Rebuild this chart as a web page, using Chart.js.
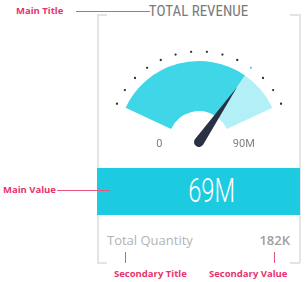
<!DOCTYPE html>
<html>
<head>
<meta charset="utf-8">
<script src="https://cdn.jsdelivr.net/npm/chart.js@4/dist/chart.umd.min.js"></script>
<style>
  body { margin: 0; background: #fff; }
  #page { position: relative; width: 307px; height: 282px; overflow: hidden; font-family: "Open Sans", sans-serif; }
  .abs { position: absolute; white-space: nowrap; }
  .narrow { font-family: "Liberation Sans Narrow", "Roboto", sans-serif; font-stretch: condensed; }
  .note { color: #e8336e; font-weight: bold; font-size: 9.5px; line-height: 10px; }
  .hline { position: absolute; height: 1px; background: #e8557f; }
  .vline { position: absolute; width: 1px; background: #e8557f; }
  .edge { position: absolute; background: #e4e4e4; }
</style>
</head>
<body>
<div id="page">
  <!-- card frame -->
  <div class="edge" style="left:97px; top:14px; width:1.5px; height:249px;"></div>
  <div class="edge" style="left:299px; top:14px; width:1.5px; height:249px;"></div>
  <div class="edge" style="left:97px; top:14px; width:10px; height:1.5px;"></div>
  <div class="edge" style="left:290px; top:14px; width:10px; height:1.5px;"></div>
  <div class="edge" style="left:97px; top:262px; width:10px; height:1.5px;"></div>
  <div class="edge" style="left:290px; top:262px; width:10px; height:1.5px;"></div>

  <div id="title" class="abs narrow" style="left:98px; width:201px; top:2px; text-align:center; font-size:15px; color:#7a7a7a;"></div>

  <div style="position:absolute; left:97px; top:30px; width:203px; height:130px;">
    <canvas id="gauge"></canvas>
  </div>

  <div id="band" style="position:absolute; left:97px; top:168px; width:203px; height:47px; background:#1dcbe0;"></div>
  <div id="mainValue" class="abs" style="left:97px; width:203px; top:171px; text-align:center; font-family:Roboto, sans-serif; font-weight:300; font-size:33px; line-height:40px; color:#fff; transform:scaleX(0.72); transform-origin:148.5px 0;"></div>

  <div id="secTitle" class="abs" style="left:107px; top:231px; font-size:13px; color:#b3b3b3;"></div>
  <div id="secValue" class="abs" style="right:17px; top:231px; font-size:13px; font-weight:600; color:#a0a0a0;"></div>

  <!-- annotations -->
  <div class="abs note" style="left:16px; top:6px;">Main Title</div>
  <div class="hline" style="left:76px; top:11px; width:74px;"></div>
  <div class="abs note" style="left:3px; top:185px;">Main Value</div>
  <div class="hline" style="left:57px; top:190px; width:53px;"></div>
  <div class="vline" style="left:125px; top:252px; height:11px;"></div>
  <div class="vline" style="left:274px; top:252px; height:11px;"></div>
  <div class="abs note" style="left:114px; top:269px;">Secondary Title</div>
  <div class="abs note" style="left:209px; top:269px;">Secondary Value</div>
</div>

<script>
// card texts
var mainTitle = "TOTAL REVENUE";
var mainValueText = "69M";
var secondaryTitle = "Total Quantity";
var secondaryValueText = "182K";

// gauge values (millions)
var gaugeMin = 0;
var gaugeMax = 90;
var gaugeValue = 69;
var gaugeLabels = ["0", "90M"];
var tickDotCount = 14;

document.getElementById("title").textContent = mainTitle;
document.getElementById("mainValue").textContent = mainValueText;
document.getElementById("secTitle").textContent = secondaryTitle;
document.getElementById("secValue").textContent = secondaryValueText;

// draws the dots around the arc, the min / max labels and the needle
var gaugeExtras = {
  id: 'gaugeExtras',
  afterDatasetsDraw: function(chart) {
    var arcs = chart.getDatasetMeta(0).data;
    var first = arcs[0], last = arcs[arcs.length - 1];
    var cx = first.x, cy = first.y;
    var inner = first.innerRadius, outer = first.outerRadius;
    var start = first.startAngle, end = last.endAngle;
    var valueAngle = first.endAngle;
    var ctx = chart.ctx;
    ctx.save();

    // dots
    var step = (end - start) / (tickDotCount - 1);
    for (var i = 0; i < tickDotCount; i++) {
      var a = start + step * i;
      var r = outer + 9.5;
      ctx.beginPath();
      ctx.arc(cx + Math.cos(a) * r, cy + Math.sin(a) * r, 1.15, 0, Math.PI * 2);
      ctx.fillStyle = Math.abs(a - valueAngle) < step / 2 ? "#3fd3e6" : "#2e2e2e";
      ctx.fill();
    }

    // end labels
    ctx.font = "11px 'Liberation Sans Narrow', Roboto, sans-serif";
    ctx.fillStyle = "#808080";
    ctx.textAlign = "center";
    ctx.textBaseline = "middle";
    ctx.fillText(gaugeLabels[0], cx - inner - 9, cy + 2);
    ctx.fillText(gaugeLabels[1], cx + inner + 14, cy + 2);

    // needle
    ctx.translate(cx, cy);
    ctx.rotate(valueAngle);
    ctx.beginPath();
    ctx.moveTo(0, -5);
    ctx.lineTo(outer - 14, 0);
    ctx.lineTo(0, 5);
    ctx.arc(0, 0, 5, Math.PI / 2, Math.PI * 1.5);
    ctx.closePath();
    ctx.fillStyle = "#2a3142";
    ctx.fill();
    ctx.restore();
  }
};

new Chart(document.getElementById("gauge"), {
  type: 'doughnut',
  data: {
    labels: ["Value", "Remaining"],
    datasets: [{
      data: [gaugeValue - gaugeMin, gaugeMax - gaugeValue],
      backgroundColor: ["#3fd6e7", "#b3eff6"],
      borderWidth: 0,
      hoverOffset: 0
    }]
  },
  options: {
    responsive: true,
    maintainAspectRatio: false,
    animation: false,
    rotation: -65,
    circumference: 130,
    cutout: '38%',
    layout: { padding: { top: 31, bottom: 31, left: 22, right: 21 } },
    plugins: {
      legend: { display: false },
      tooltip: { enabled: false }
    }
  },
  plugins: [gaugeExtras]
});
</script>
</body>
</html>
